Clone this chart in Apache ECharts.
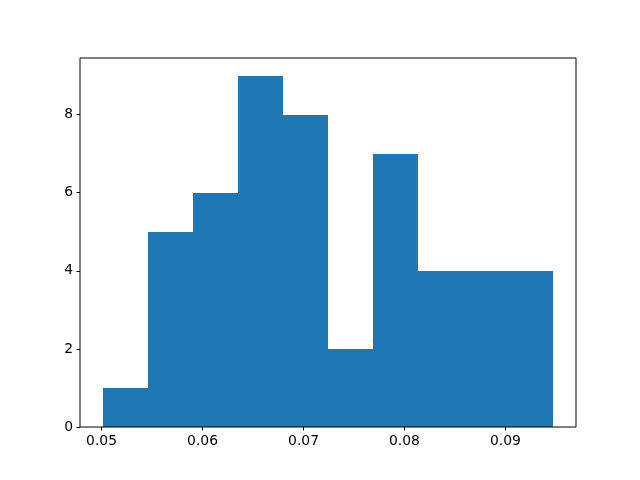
<!DOCTYPE html>
<html>
<head>
<meta charset="utf-8">
<script src="https://cdn.jsdelivr.net/npm/echarts@6/dist/echarts.min.js"></script>
<style>
  html, body { margin: 0; padding: 0; background: #fff; }
  #chart { width: 640px; height: 480px; }
</style>
</head>
<body>
<div id="chart"></div>
<script>
// Histogram bin edges and counts
const binEdges = [0.0501, 0.05457, 0.05903, 0.0635, 0.06796, 0.07243, 0.07689, 0.08136, 0.08582, 0.09029, 0.09475];
const counts = [1, 5, 6, 9, 8, 2, 7, 4, 4, 4];
const xTicks = [0.05, 0.06, 0.07, 0.08, 0.09];
const yTicks = [0, 2, 4, 6, 8];

// matplotlib-style 5% margins
const span = binEdges[binEdges.length - 1] - binEdges[0];
const xMin = binEdges[0] - 0.05 * span;
const xMax = binEdges[binEdges.length - 1] + 0.05 * span;
const yMax = Math.max(...counts) * 1.05;

const bars = counts.map((c, i) => [binEdges[i], binEdges[i + 1], c]);

const chart = echarts.init(document.getElementById('chart'), null, { renderer: 'canvas' });

const labelStyle = { color: '#000', fontFamily: 'DejaVu Sans', fontSize: 13.9 };

const option = {
    animation: false,
    grid: {
        left: 80, right: 64, top: 58, bottom: 53,
        show: true, borderColor: '#000', borderWidth: 1, backgroundColor: 'transparent', z: 5
    },
    xAxis: {
        type: 'value',
        min: xMin,
        max: xMax,
        axisLine: { show: false },
        axisTick: { show: true, length: 3.5, customValues: xTicks, lineStyle: { color: '#000' } },
        axisLabel: Object.assign({ customValues: xTicks, margin: 7, formatter: v => v.toFixed(2) }, labelStyle),
        splitLine: { show: false }
    },
    yAxis: {
        type: 'value',
        min: 0,
        max: yMax,
        axisLine: { show: false },
        axisTick: { show: true, length: 3.5, customValues: yTicks, lineStyle: { color: '#000' } },
        axisLabel: Object.assign({ customValues: yTicks, margin: 7 }, labelStyle),
        splitLine: { show: false }
    },
    series: [{
        type: 'custom',
        data: bars,
        encode: { x: [0, 1], y: 2 },
        renderItem: function (params, api) {
            const p0 = api.coord([api.value(0), 0]);
            const p1 = api.coord([api.value(1), api.value(2)]);
            const x0 = Math.round(p0[0]), x1 = Math.round(p1[0]);
            const yTop = Math.round(p1[1]), yBot = Math.round(p0[1]);
            return {
                type: 'rect',
                shape: { x: x0, y: yTop, width: x1 - x0, height: yBot - yTop },
                style: { fill: '#1f77b4' }
            };
        }
    }]
};

chart.setOption(option);
</script>
</body>
</html>
